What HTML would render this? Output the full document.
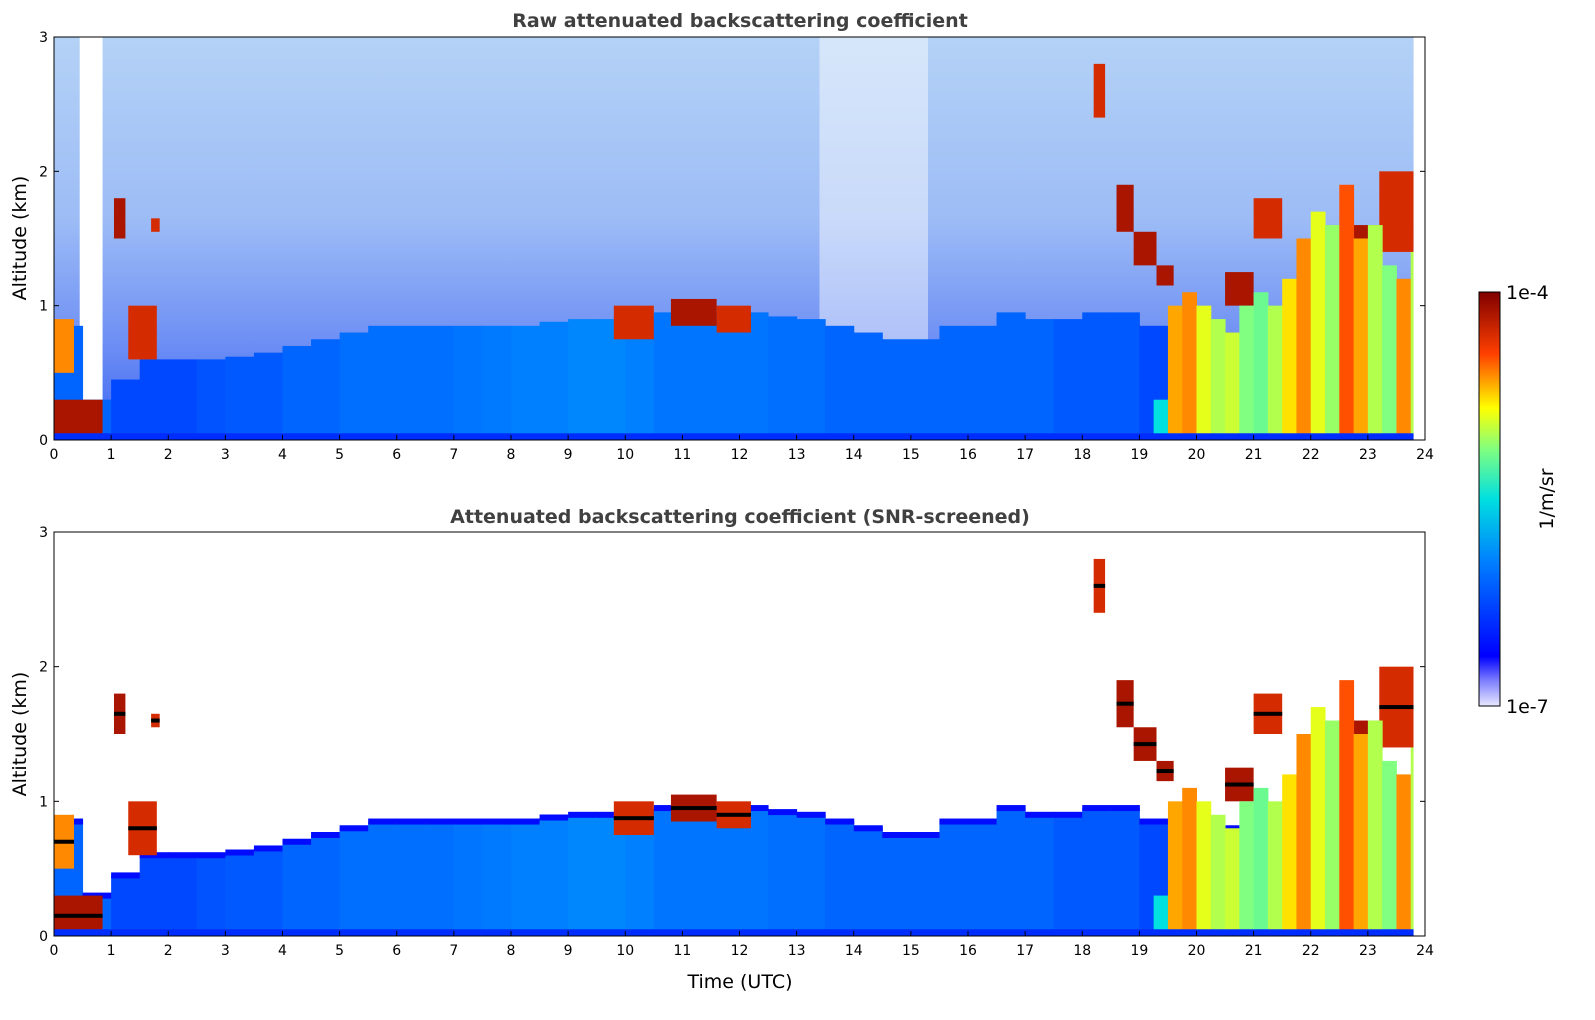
<!DOCTYPE html>
<html><head><meta charset="utf-8">
<style>
html,body{margin:0;padding:0;background:#fff;overflow:hidden;width:1595px;height:1020px;}
svg{display:block}
text{font-family:"DejaVu Sans","Liberation Sans",sans-serif;}
</style></head>
<body>
<svg id="chart" width="1595" height="1020" viewBox="0 0 1595 1020" xmlns="http://www.w3.org/2000/svg">
<defs>
<linearGradient id="noiseGrad" x1="0" y1="0" x2="0" y2="1">
<stop offset="0" stop-color="#b4d2f6"/><stop offset="0.45" stop-color="#9dbcf6"/><stop offset="0.75" stop-color="#6f90f4"/><stop offset="1" stop-color="#3d66f2"/>
</linearGradient>
<linearGradient id="jet" x1="0" y1="1" x2="0" y2="0">
<stop offset="0" stop-color="#e8e8ff"/><stop offset="0.06" stop-color="#8080ff"/><stop offset="0.12" stop-color="#0000ff"/>
<stop offset="0.35" stop-color="#0080ff"/><stop offset="0.5" stop-color="#00e0e0"/><stop offset="0.62" stop-color="#80ff80"/>
<stop offset="0.72" stop-color="#ffff00"/><stop offset="0.85" stop-color="#ff4000"/><stop offset="1" stop-color="#800000"/>
</linearGradient>
<clipPath id="clipTop"><rect x="54" y="37" width="1371" height="403"/></clipPath>
<clipPath id="clipBot"><rect x="54" y="532" width="1371" height="404"/></clipPath>
</defs>
<g id="panelTop" clip-path="url(#clipTop)"></g>
<g id="panelBot" clip-path="url(#clipBot)"></g>
<g id="axes"></g>
<text x="740" y="27" text-anchor="middle" font-size="19" font-weight="bold" fill="#404040">Raw attenuated backscattering coefficient</text>
<text x="740" y="523" text-anchor="middle" font-size="19" font-weight="bold" fill="#404040">Attenuated backscattering coefficient (SNR-screened)</text>
<text x="740" y="988" text-anchor="middle" font-size="19">Time (UTC)</text>
<text transform="translate(26,238) rotate(-90)" text-anchor="middle" font-size="19">Altitude (km)</text>
<text transform="translate(26,734) rotate(-90)" text-anchor="middle" font-size="19">Altitude (km)</text>
<rect x="1479" y="292" width="21" height="414" fill="url(#jet)" stroke="#000"/>
<text x="1506" y="299" font-size="19">1e-4</text>
<text x="1506" y="713" font-size="19">1e-7</text>
<text transform="translate(1553,499) rotate(-90)" text-anchor="middle" font-size="19">1/m/sr</text>
</svg>
<script>
// half-hour bins, 0..23.5 h
const blTop=[0.85,0.3,0.45,0.6,0.6,0.6,0.62,0.65,0.7,0.75,0.8,0.85,0.85,0.85,0.85,0.85,0.85,0.88,0.9,0.9,0.92,0.95,0.95,0.95,0.95,0.92,0.9,0.85,0.8,0.75,0.75,0.85,0.85,0.95,0.9,0.9,0.95,0.95,0.85,0.8,0.8,0.8,0.8,0.8,0.8,0.8,0.8,0.8];
const blVal=[0.3,0.3,0.25,0.25,0.25,0.27,0.28,0.28,0.3,0.3,0.32,0.32,0.32,0.32,0.33,0.34,0.35,0.35,0.36,0.36,0.35,0.33,0.33,0.33,0.33,0.32,0.32,0.3,0.3,0.3,0.3,0.3,0.3,0.3,0.3,0.28,0.28,0.28,0.25,0.25,0.25,0.25,0.25,0.25,0.25,0.25,0.25,0.25];
// clouds: start time, end time, base km, top km, value
const cloudStart=[0.0,0.0,1.05,1.7,1.3,9.8,10.8,11.6,18.2,18.6,18.9,19.3,20.5,21.0,22.0,22.5,23.2];
const cloudEnd=[0.85,0.35,1.25,1.85,1.8,10.5,11.6,12.2,18.4,18.9,19.3,19.6,21.0,21.5,22.5,23.2,23.8];
const cloudBase=[0.0,0.5,1.5,1.55,0.6,0.75,0.85,0.8,2.4,1.55,1.3,1.15,1.0,1.5,0.55,1.3,1.4];
const cloudTop=[0.3,0.9,1.8,1.65,1.0,1.0,1.05,1.0,2.8,1.9,1.55,1.3,1.25,1.8,0.75,1.6,2.0];
const cloudVal=[0.95,0.8,0.95,0.9,0.9,0.9,0.95,0.9,0.9,0.95,0.95,0.95,0.95,0.9,0.95,0.95,0.9];
// precipitation/fall streaks: quarter-hour bins from 19.25 h
const precipTop=[0.3,1.0,1.1,1.0,0.9,0.8,1.0,1.1,1.0,1.2,1.5,1.7,1.6,1.9,1.5,1.6,1.3,1.2,1.4,1.5,1.6,1.4,1.0,1.5,1.8,0.9,0.5,1.9];
const precipVal=[0.5,0.78,0.8,0.7,0.66,0.68,0.62,0.6,0.66,0.74,0.8,0.7,0.64,0.84,0.78,0.66,0.62,0.8,0.66,0.6,0.7,0.78,0.62,0.7,0.45,0.35,0.32,0.4];
const xTicks=[0,1,2,3,4,5,6,7,8,9,10,11,12,13,14,15,16,17,18,19,20,21,22,23,24];
const yTicks=[0,1,2,3];

const NS="http://www.w3.org/2000/svg";
const X0=54,X1=1425;
const xs=t=>X0+(X1-X0)*t/24;
function ysF(top,bot){return a=>bot-(bot-top)*a/3;}
const stops=[[0,[232,232,255]],[0.06,[128,128,255]],[0.12,[0,0,255]],[0.35,[0,128,255]],[0.5,[0,224,224]],[0.62,[128,255,128]],[0.72,[255,255,0]],[0.85,[255,64,0]],[1,[128,0,0]]];
function jet(v){v=Math.max(0,Math.min(1,v));for(let i=1;i<stops.length;i++){if(v<=stops[i][0]){const a=stops[i-1],b=stops[i],f=(v-a[0])/(b[0]-a[0]);const c=a[1].map((q,k)=>Math.round(q+(b[1][k]-q)*f));return `rgb(${c})`;}}return 'rgb(128,0,0)';}
function rect(g,x,y,w,h,fill){const r=document.createElementNS(NS,'rect');r.setAttribute('x',x);r.setAttribute('y',y);r.setAttribute('width',Math.max(w,0));r.setAttribute('height',Math.max(h,0));r.setAttribute('fill',fill);g.appendChild(r);return r;}

function drawPanel(id,top,bot,raw){
  const g=document.getElementById(id);const ys=ysF(top,bot);
  if(raw){const n=rect(g,X0,top,X1-X0,bot-top,'url(#noiseGrad)');
    
    
    rect(g,xs(13.4),top,xs(15.3)-xs(13.4),bot-top,'rgba(255,255,255,0.45)');
    rect(g,xs(0.45),top,xs(0.85)-xs(0.45),bot-top,'#ffffff');}
  for(let i=0;i<blTop.length;i++){
    const t=i*0.5;
    const r=rect(g,xs(t),ys(blTop[i]),xs(t+0.5)-xs(t)+0.5,ys(0)-ys(blTop[i]),jet(blVal[i]));
    
    
    if(!raw){rect(g,xs(t),ys(blTop[i])-3,xs(t+0.5)-xs(t)+0.5,6,jet(0.14));}
  }
  for(let i=0;i<cloudStart.length;i++){
    const r=rect(g,xs(cloudStart[i]),ys(cloudTop[i]),xs(cloudEnd[i])-xs(cloudStart[i]),ys(cloudBase[i])-ys(cloudTop[i]),jet(cloudVal[i]));
    
    
    if(!raw){rect(g,xs(cloudStart[i]),(ys(cloudTop[i])+ys(cloudBase[i]))/2-2,xs(cloudEnd[i])-xs(cloudStart[i]),4,'#000');}
  }
  for(let i=0;i<precipTop.length;i++){
    const t=19.25+i*0.25;
    const r=rect(g,xs(t),ys(precipTop[i]),xs(t+0.25)-xs(t)+0.5,ys(0)-ys(precipTop[i]),jet(precipVal[i]));
    
    
  }
  rect(g,xs(23.8),top,X1-xs(23.8),bot-top,'#ffffff');
  rect(g,X0,ys(0.05),xs(23.8)-X0,ys(0)-ys(0.05),jet(0.2));
}
drawPanel('panelTop',37,440,true);
drawPanel('panelBot',532,936,false);

const ax=document.getElementById('axes');
function axes(top,bot,name){
  const ys=ysF(top,bot);
  const f=rect(ax,X0,top,X1-X0,bot-top,'none');f.setAttribute('stroke','#000');
  
  
  xTicks.forEach(t=>{
    const l=document.createElementNS(NS,'line');l.setAttribute('x1',xs(t));l.setAttribute('x2',xs(t));l.setAttribute('y1',bot);l.setAttribute('y2',bot-5);l.setAttribute('stroke','#000');ax.appendChild(l);
    const tx=document.createElementNS(NS,'text');tx.setAttribute('x',xs(t));tx.setAttribute('y',bot+19);tx.setAttribute('text-anchor','middle');tx.setAttribute('font-size','14');tx.textContent=t;
    
    
    ax.appendChild(tx);});
  yTicks.forEach(v=>{
    [[X0,X0+5],[X1,X1-5]].forEach(p=>{const l=document.createElementNS(NS,'line');l.setAttribute('x1',p[0]);l.setAttribute('x2',p[1]);l.setAttribute('y1',ys(v));l.setAttribute('y2',ys(v));l.setAttribute('stroke','#000');ax.appendChild(l);});
    const tx=document.createElementNS(NS,'text');tx.setAttribute('x',X0-6);tx.setAttribute('y',ys(v)+5);tx.setAttribute('text-anchor','end');tx.setAttribute('font-size','14');tx.textContent=v;
    
    
    ax.appendChild(tx);});
}
axes(37,440,'top-axes');
axes(532,936,'bottom-axes');
</script>
</body></html>
